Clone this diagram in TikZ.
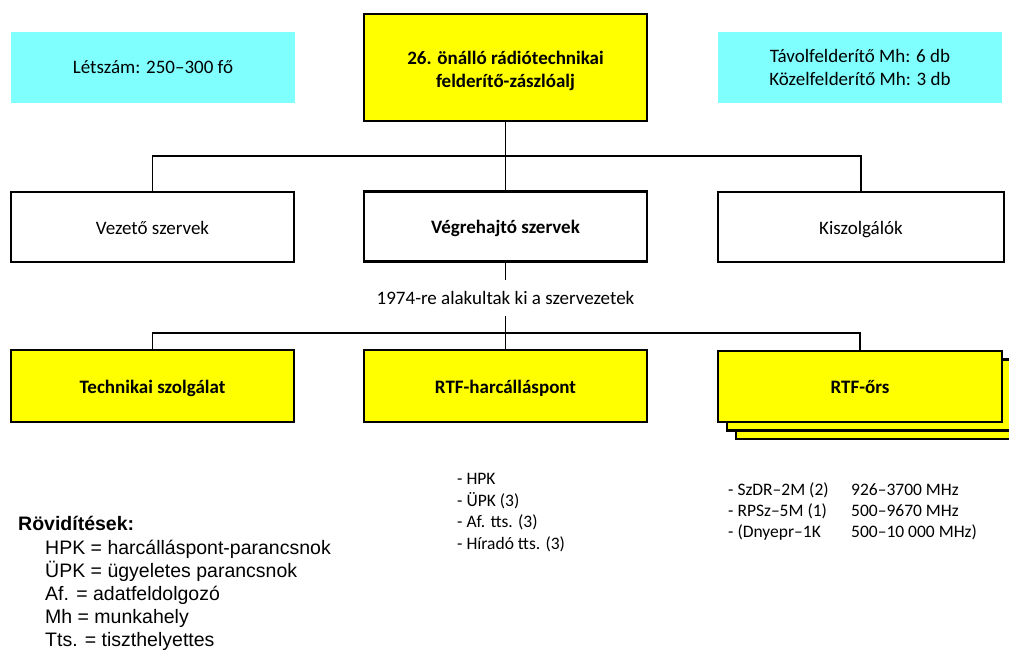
\documentclass[tikz,border=0pt]{standalone}
\usepackage{fontspec}
\setmainfont{Carlito}
\newfontfamily\legendfont{Liberation Sans}
\usetikzlibrary{positioning}
\definecolor{unityellow}{HTML}{FFFF00}
\definecolor{infocyan}{HTML}{80FFFF}

\tikzset{
  unit/.style={draw,line width=1.3pt,minimum width=283pt,minimum height=70pt,
    inner sep=0pt,align=center,text height=18pt,text depth=4pt,
    font=\fontsize{19}{23}\selectfont},
  mainunit/.style={unit,line width=2.6pt,font=\fontsize{19}{23}\selectfont\bfseries},
  yellowunit/.style={mainunit,fill=unityellow},
  infobox/.style={fill=infocyan,minimum width=284pt,minimum height=71pt,
    inner sep=0pt,align=center,font=\fontsize{19}{23}\selectfont},
  wire/.style={line width=1.3pt},
  itemlist/.style={anchor=north west,inner sep=0pt,align=left,
    font=\fontsize{17.5}{21.7}\selectfont}
}

\begin{document}
\begin{tikzpicture}[x=1pt,y=-1pt]
  \useasboundingbox (0,0) rectangle (1009,651);

  % top level
  \node[yellowunit,minimum height=107pt,text height=,text depth=] (zaszlo) at (505.5,67.5)
    {\rule{0pt}{21pt}26. önálló rádiótechnikai\\felderítő-zászlóalj};
  \node[infobox] (letszam) at (153,67.5) {Létszám: 250--300 fő};
  \node[infobox] (mh) at (860,67.5) {Távolfelderítő Mh: 6 db\\Közelfelderítő Mh: 3 db};

  % second level
  \node[unit] (vezeto) at (152.5,227) {Vezető szervek};
  \node[mainunit] (vegre) at (505.5,226.5) {Végrehajtó szervek};
  \node[unit,minimum width=286pt] (kiszolg) at (861,227) {Kiszolgálók};

  \coordinate (bus1) at (505.5,156);
  \draw[wire] (zaszlo.south) -- (vegre.north);
  \draw[wire] (vezeto.north) |- (bus1) -| (kiszolg.north);

  \node[inner sep=0pt,minimum height=36pt,font=\fontsize{19}{23}\selectfont]
    (ev) at (505.5,298) {1974-re alakultak ki a szervezetek};

  % third level
  \node[yellowunit,minimum height=72pt] (tech) at (152.5,386) {Technikai szolgálat};
  \node[yellowunit,minimum height=72pt] (harc) at (505.5,386) {RTF-harcálláspont};
  \node[yellowunit,minimum width=284pt,minimum height=71pt] (ors3) at (878,403.5) {};
  \node[yellowunit,minimum width=284pt,minimum height=71pt] (ors2) at (869,395) {};
  \node[yellowunit,minimum width=284pt,minimum height=71pt] (ors) at (860,386.5) {RTF-őrs};

  \coordinate (bus2) at (505.5,333);
  \draw[wire] (vegre.south) -- (ev.north);
  \draw[wire] (ev.south) -- (harc.north);
  \draw[wire] (tech.north) |- (bus2) -| (ors.north);

  % equipment
  \node[itemlist] (harclist) at (457,473)
    {- HPK\\- ÜPK (3)\\- Af. tts. (3)\\- Híradó tts. (3)};
  \node[itemlist,font=\fontsize{17.5}{21}\selectfont] (orslist) at (728,481)
    {\begin{tabular}{@{}p{123pt}@{}l@{}}
      - SzDR--2M (2) & 926--3700 MHz\\
      - RPSz--5M (1) & 500--9670 MHz\\
      - (Dnyepr--1K & 500--10 000 MHz)
    \end{tabular}};

  % legend
  \node[anchor=west,inner sep=0pt,font=\legendfont\fontsize{19.5}{23}\selectfont\bfseries]
    (rovhead) at (18,523) {Rövidítések:};
  \node[anchor=north west,inner sep=0pt,align=left,
    font=\legendfont\fontsize{19.5}{23}\selectfont] (rovlist) at (45,540)
    {HPK = harcálláspont-parancsnok\\ÜPK = ügyeletes parancsnok\\Af. = adatfeldolgozó\\Mh = munkahely\\Tts. = tiszthelyettes};
\end{tikzpicture}
\end{document}
